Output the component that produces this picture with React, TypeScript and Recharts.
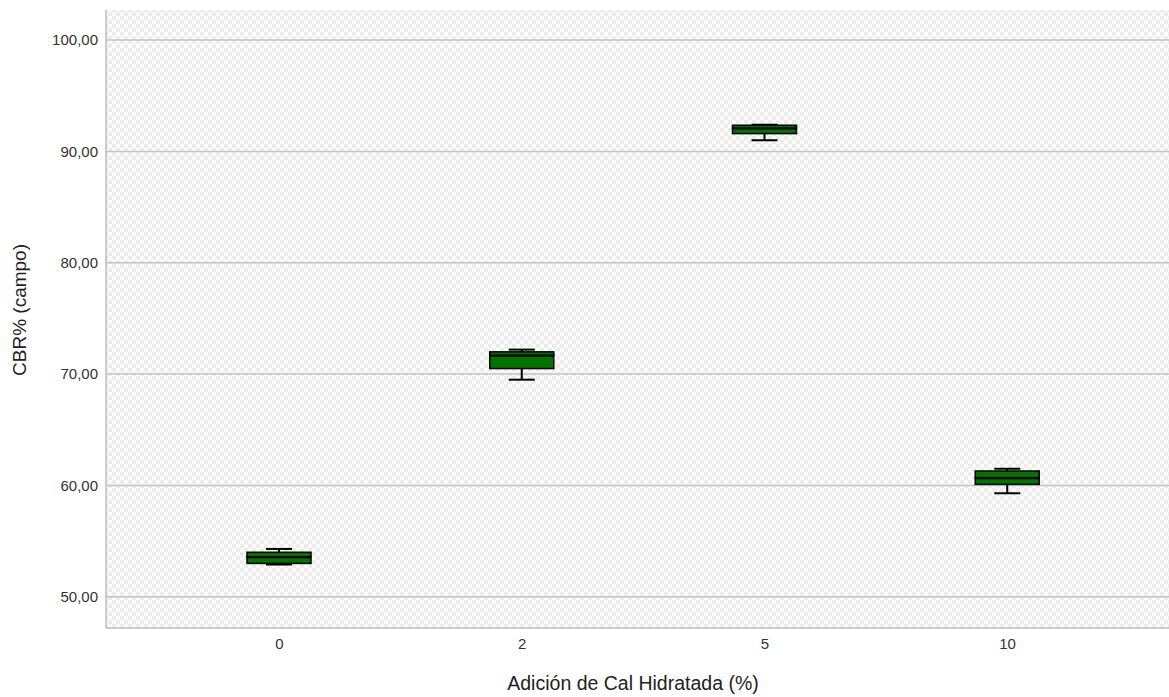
import * as React from "react"
import {
  ComposedChart,
  Bar,
  XAxis,
  YAxis,
  CartesianGrid,
  Label,
} from "recharts"

// ── Data ──────────────────────────────────────────────────────────────
const categories = ["0", "2", "5", "10"]
const mins = [52.9, 69.5, 91.0, 59.3]
const q1s = [53.0, 70.5, 91.6, 60.1]
const medians = [53.6, 71.7, 92.1, 60.7]
const q3s = [54.0, 72.0, 92.35, 61.3]
const maxs = [54.3, 72.2, 92.4, 61.5]
const yTicks = [50, 60, 70, 80, 90, 100]

// stacked segments: invisible base, lower whisker, lower box, upper box, upper whisker
const chartData = categories.map((c, i) => ({
  cat: c,
  base: mins[i],
  lowWhisker: q1s[i] - mins[i],
  lowBox: medians[i] - q1s[i],
  highBox: q3s[i] - medians[i],
  highWhisker: maxs[i] - q3s[i],
}))

const BOX_FILL = "#007300"
const CAP = 26
const FONT = "'Liberation Sans', Arial, sans-serif"

// ── Shapes ────────────────────────────────────────────────────────────
const LowWhisker = (p: any) => {
  const cx = p.x + p.width / 2
  const yb = p.y + p.height
  return (
    <g stroke="#000" strokeWidth={2}>
      <line x1={cx} x2={cx} y1={p.y} y2={yb} />
      <line x1={cx - CAP / 2} x2={cx + CAP / 2} y1={yb} y2={yb} />
    </g>
  )
}

const HighWhisker = (p: any) => {
  const cx = p.x + p.width / 2
  return (
    <g stroke="#000" strokeWidth={2}>
      <line x1={cx} x2={cx} y1={p.y} y2={p.y + p.height} />
      <line x1={cx - CAP / 2} x2={cx + CAP / 2} y1={p.y} y2={p.y} />
    </g>
  )
}

const LowBox = (p: any) => (
  <g>
    <rect x={p.x} y={p.y} width={p.width} height={p.height} fill={BOX_FILL} stroke="#000" strokeWidth={1.5} />
    <line x1={p.x} x2={p.x + p.width} y1={p.y} y2={p.y} stroke="#000" strokeWidth={3} />
  </g>
)

const HighBox = (p: any) => (
  <rect x={p.x} y={p.y} width={p.width} height={p.height} fill={BOX_FILL} stroke="#000" strokeWidth={1.5} />
)

// only draw grid lines at the tick values, not on the plot edges
const gridYs = (args: any) => {
  const s = args?.yAxis?.scale
  if (typeof s === "function") return yTicks.map((t) => s(t))
  if (s && typeof s.map === "function") return yTicks.map((t) => s.map(t))
  return []
}

// ── Component ─────────────────────────────────────────────────────────
export default function App() {
  return (
    <div style={{ position: "absolute", left: 0, top: 0, background: "#fff" }}>
      <ComposedChart
        width={1169}
        height={697}
        data={chartData}
        margin={{ top: 10, right: 0, bottom: 0, left: 0 }}
        style={{ fontFamily: FONT }}
      >
        <defs>
          <pattern id="checker" width={8} height={8} patternUnits="userSpaceOnUse">
            <rect width={8} height={8} fill="#fbfbfb" />
            <rect width={4} height={4} fill="#ececec" />
            <rect x={4} y={4} width={4} height={4} fill="#ececec" />
          </pattern>
        </defs>
        <CartesianGrid
          vertical={false}
          stroke="#c4c4c4"
          strokeWidth={1.5}
          fill="url(#checker)"
          horizontalCoordinatesGenerator={gridYs}
        />
        <XAxis
          dataKey="cat"
          height={69}
          padding={{ left: 52, right: 40 }}
          tickLine={false}
          tickSize={0}
          tickMargin={10}
          axisLine={{ stroke: "#bdbdbd", strokeWidth: 1.5 }}
          tick={{ fill: "#333", fontSize: 15 }}
        >
          <Label
            content={() => (
              <text x={633} y={690} textAnchor="middle" fontSize={19.5} fill="#222" fontFamily={FONT}>
                Adición de Cal Hidratada (%)
              </text>
            )}
          />
        </XAxis>
        <YAxis
          type="number"
          width={106}
          domain={[47.2, 102.7]}
          ticks={yTicks}
          allowDataOverflow
          tickLine={false}
          tickSize={0}
          tickMargin={8}
          axisLine={{ stroke: "#bdbdbd", strokeWidth: 1.5 }}
          tick={{ fill: "#333", fontSize: 15 }}
          tickFormatter={(v: number) => v.toFixed(2).replace(".", ",")}
        >
          <Label
            content={() => (
              <text
                x={26}
                y={310}
                textAnchor="middle"
                fontSize={19}
                fill="#222"
                fontFamily={FONT}
                transform="rotate(-90 26 310)"
              >
                CBR% (campo)
              </text>
            )}
          />
        </YAxis>
        <Bar dataKey="base" stackId="a" barSize={64} fill="transparent" isAnimationActive={false} />
        <Bar dataKey="lowWhisker" stackId="a" barSize={64} shape={LowWhisker} isAnimationActive={false} />
        <Bar dataKey="lowBox" stackId="a" barSize={64} shape={LowBox} isAnimationActive={false} />
        <Bar dataKey="highBox" stackId="a" barSize={64} shape={HighBox} isAnimationActive={false} />
        <Bar dataKey="highWhisker" stackId="a" barSize={64} shape={HighWhisker} isAnimationActive={false} />
      </ComposedChart>
    </div>
  )
}
